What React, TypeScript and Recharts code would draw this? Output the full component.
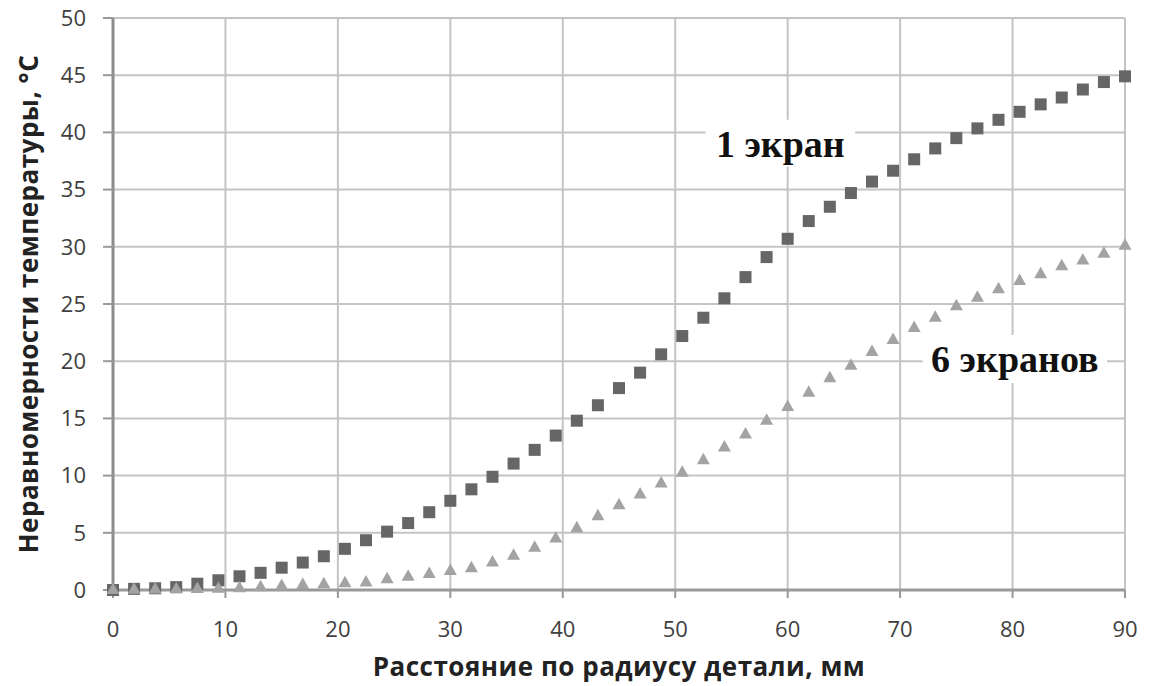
import {
  ScatterChart,
  Scatter,
  XAxis,
  YAxis,
  CartesianGrid,
  ReferenceArea,
  Label,
} from "recharts";

// distance along the radius, mm
const radius = [
  0, 1.875, 3.75, 5.625, 7.5, 9.375, 11.25, 13.125, 15, 16.875, 18.75, 20.625,
  22.5, 24.375, 26.25, 28.125, 30, 31.875, 33.75, 35.625, 37.5, 39.375, 41.25,
  43.125, 45, 46.875, 48.75, 50.625, 52.5, 54.375, 56.25, 58.125, 60, 61.875,
  63.75, 65.625, 67.5, 69.375, 71.25, 73.125, 75, 76.875, 78.75, 80.625, 82.5,
  84.375, 86.25, 88.125, 90,
];

// 1 экран
const oneScreen = [
  0, 0.1, 0.15, 0.25, 0.55, 0.85, 1.2, 1.5, 1.95, 2.4, 2.95, 3.6, 4.35, 5.1,
  5.85, 6.8, 7.8, 8.8, 9.9, 11.05, 12.25, 13.5, 14.8, 16.15, 17.65, 19.0, 20.6,
  22.2, 23.8, 25.5, 27.35, 29.1, 30.7, 32.25, 33.5, 34.7, 35.7, 36.65, 37.65,
  38.6, 39.5, 40.35, 41.1, 41.8, 42.45, 43.05, 43.75, 44.4, 44.9,
];

// 6 экранов
const sixScreens = [
  0, 0.02, 0.04, 0.06, 0.08, 0.12, 0.16, 0.25, 0.35, 0.44, 0.5, 0.58, 0.65,
  0.93, 1.15, 1.4, 1.65, 1.9, 2.4, 3.0, 3.7, 4.5, 5.4, 6.45, 7.4, 8.35, 9.3,
  10.25, 11.35, 12.45, 13.6, 14.8, 16.0, 17.25, 18.5, 19.6, 20.8, 21.85, 22.9,
  23.8, 24.8, 25.55, 26.3, 27.0, 27.6, 28.3, 28.8, 29.4, 30.1,
];

const xTicks = [0, 10, 20, 30, 40, 50, 60, 70, 80, 90];
const yTicks = [0, 5, 10, 15, 20, 25, 30, 35, 40, 45, 50];

const oneData = radius.map((x, i) => ({ x, y: oneScreen[i] }));
const sixData = radius.map((x, i) => ({ x, y: sixScreens[i] }));

const SquareDot = (props: any) => {
  const { cx, cy } = props;
  return <rect x={cx - 6} y={cy - 6} width={12} height={12} fill="#666666" />;
};

const TriangleDot = (props: any) => {
  const { cx, cy } = props;
  return (
    <polygon
      points={`${cx},${cy - 7.5} ${cx + 6.5},${cy + 4} ${cx - 6.5},${cy + 4}`}
      fill="#a3a3a3"
    />
  );
};

const tickStyle = { fontFamily: "Open Sans", fontSize: 22, fill: "#404040" };
const titleStyle = {
  fontFamily: "Open Sans",
  fontSize: 26,
  fontWeight: "bold",
  letterSpacing: 0.5,
  fill: "#222",
};
const noteLabel = {
  position: "center" as const,
  fill: "#111",
  fontSize: 38,
  fontWeight: "bold",
  fontFamily: "Liberation Serif",
};

export default function App() {
  return (
    <div style={{ position: "absolute", left: 0, top: 0, background: "#fff" }}>
      <ScatterChart
        width={1155}
        height={686}
        margin={{ top: 18, right: 30, left: 0, bottom: 0 }}
      >
        <CartesianGrid stroke="#c4c4c4" strokeWidth={2} />
        <XAxis
          type="number"
          dataKey="x"
          domain={[0, 90]}
          ticks={xTicks}
          height={96}
          tick={tickStyle}
          tickSize={8}
          tickMargin={23}
          axisLine={{ stroke: "#999", strokeWidth: 3 }}
          tickLine={{ stroke: "#999", strokeWidth: 2 }}
        >
          <Label
            value="Расстояние по радиусу детали, мм"
            position="insideBottom"
            offset={10}
            style={titleStyle}
          />
        </XAxis>
        <YAxis
          type="number"
          dataKey="y"
          domain={[0, 50]}
          ticks={yTicks}
          width={113}
          tick={tickStyle}
          tickSize={10}
          tickMargin={17}
          axisLine={{ stroke: "#8c8c8c", strokeWidth: 3 }}
          tickLine={{ stroke: "#999", strokeWidth: 2 }}
        >
          <Label
            value="Неравномерности температуры, °С"
            angle={-90}
            position="insideLeft"
            offset={29}
            style={{ ...titleStyle, textAnchor: "middle" }}
          />
        </YAxis>
        <ReferenceArea
          x1={52.7}
          x2={66}
          y1={37}
          y2={41.1}
          fill="#fff"
          fillOpacity={1}
          stroke="none"
          label={{ value: "1 экран", ...noteLabel }}
        />
        <ReferenceArea
          x1={72}
          x2={88.4}
          y1={18.1}
          y2={22.3}
          fill="#fff"
          fillOpacity={1}
          stroke="none"
          label={{ value: "6 экранов", ...noteLabel }}
        />
        <Scatter
          name="1 экран"
          data={oneData}
          shape={SquareDot}
          isAnimationActive={false}
        />
        <Scatter
          name="6 экранов"
          data={sixData}
          shape={TriangleDot}
          isAnimationActive={false}
        />
      </ScatterChart>
    </div>
  );
}
